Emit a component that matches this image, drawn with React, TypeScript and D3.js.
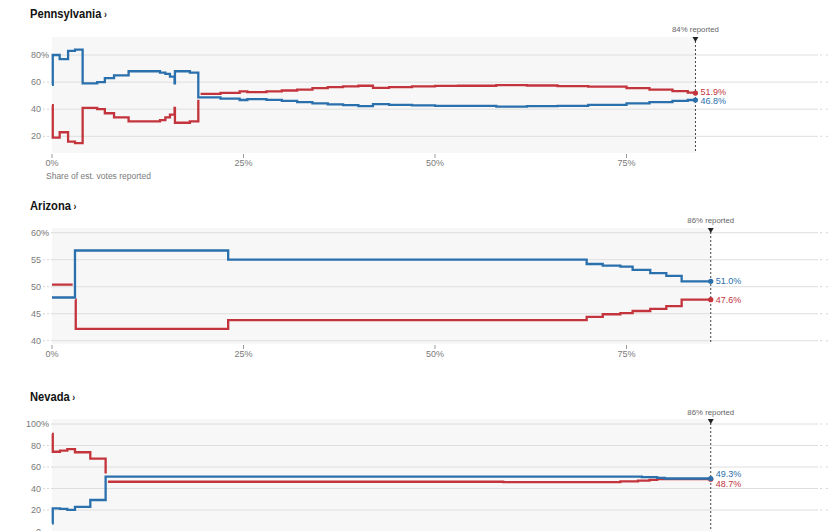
import React from 'react';
import * as d3 from 'd3';

type Pt = [number, number | null];

// share of est. votes reported (%) -> candidate share (%), step values
const paDem: Pt[] = [
  [0, 58], [0.1, 80], [1.0, 77], [2.1, 83], [3.0, 84], [4.0, 59], [5.9, 60], [6.9, 63], [8.1, 65],
  [10, 68], [14.1, 67], [14.8, 66], [15.4, 64], [16.0, 59], [16.05, 68], [18, 67], [19.1, 48.8],
  [22, 47.8], [24.5, 46.8], [25.5, 47.4], [28, 46.9], [30, 46.2], [32, 45.2], [34, 44.3], [36, 43.5],
  [38, 43], [40, 42.2], [41.9, 43.7], [44, 43.2], [47, 42.8], [50, 42.5], [53, 42.4], [58, 41.9],
  [62, 42.2], [66, 42.5], [70, 43.2], [75, 44.3], [78, 45.2], [81, 46.2], [83, 46.8], [84, 46.8],
];
const paRep: Pt[] = [
  [0, 43], [0.1, 19], [1.0, 23], [2.1, 16], [3.0, 15], [4.0, 41], [5.9, 40], [6.9, 37], [8.1, 34],
  [10, 31], [14.1, 32], [14.8, 34], [15.4, 36], [16.0, 41], [16.05, 30], [18, 31], [19.1, 47],
  [19.3, null], [19.4, 51.3], [22, 52], [24.5, 53.2], [25.5, 52.6], [28, 53.2], [30, 53.8], [32, 54.5],
  [34, 55.6], [36, 56.3], [38, 56.8], [40, 57.3], [41.9, 55.8], [44, 56.3], [47, 56.8], [50, 57.2],
  [53, 57.3], [58, 57.8], [62, 57.5], [66, 57], [70, 56.6], [75, 55.6], [78, 54.5], [81, 53.3],
  [83, 52.3], [84, 51.9],
];

const azDem: Pt[] = [
  [0, 48], [3.0, 56.7], [23, 55], [69.8, 54.2], [71.9, 53.9], [74.2, 53.7], [75.8, 53.1],
  [78.1, 52.5], [80.2, 52.0], [82.2, 51.0], [86, 51.0],
];
const azRep: Pt[] = [
  [0, 50.4], [2.7, 50.4], [2.8, null], [3.05, 47.6], [3.1, 42.2], [23, 43.8], [69.8, 44.4],
  [71.9, 44.9], [74.2, 45.1], [75.8, 45.5], [78.1, 45.9], [80.2, 46.4], [82.2, 47.6], [86, 47.6],
];

const nvDem: Pt[] = [
  [0, 7.6], [0.1, 21.6], [1.04, 21], [2, 20.2], [3, 23], [5, 29.3], [7, 51], [75, 51],
  [77, 50.5], [79, 49.8], [80, 49.3], [86, 49.3],
];
const nvRep: Pt[] = [
  [0, 90.7], [0.1, 74.2], [1.04, 75.2], [2, 76.7], [3, 73.7], [5, 67.7], [7, 54], [7.1, null],
  [7.3, 46.3], [58.9, 45.9], [74.2, 46.6], [76.5, 47.3], [78, 48], [79, 48.7], [86, 48.7],
];

const stateNames = ['Pennsylvania', 'Arizona', 'Nevada'];
const reported = [84, 86, 86];
const yTicks = [[20, 40, 60, 80], [40, 45, 50, 55, 60], [0, 20, 40, 60, 80, 100]];
const yDomains: [number, number][] = [[20, 80], [40, 60], [0, 100]];
const xTicks = [0, 25, 50, 75];
const demSeries = [paDem, azDem, nvDem];
const repSeries = [paRep, azRep, nvRep];

const BLUE = '#2a70ad';
const RED = '#c3343c';
const FONT = "'Liberation Sans', Arial, sans-serif";

// pixel layout for each panel
const layout = [
  { titleY: 18, bgTop: 37, bgBottom: 153, y0: 136.3, y1: 55, annY: 32, lineBottom: 153, axisLabel: true, xAxis: true },
  { titleY: 210, bgTop: 228, bgBottom: 344, y0: 340.7, y1: 232.7, annY: 223, lineBottom: 344, axisLabel: false, xAxis: true },
  { titleY: 401, bgTop: 419, bgBottom: 540, y0: 531.5, y1: 424, annY: 415, lineBottom: 531, axisLabel: false, xAxis: false },
];

const xScale = d3.scaleLinear().domain([0, 100]).range([52, 818]);

const Panel: React.FC<{ i: number }> = ({ i }) => {
  const L = layout[i];
  const yScale = d3.scaleLinear().domain(yDomains[i]).range([L.y0, L.y1]);
  const line = d3.line<Pt>()
    .defined(d => d[1] !== null)
    .x(d => xScale(d[0]))
    .y(d => yScale(d[1] as number))
    .curve(d3.curveStepAfter);
  const xr = xScale(reported[i]);
  const ticks = yTicks[i];
  const top = ticks[ticks.length - 1];

  const dem = demSeries[i];
  const rep = repSeries[i];
  const demLast = dem[dem.length - 1][1] as number;
  const repLast = rep[rep.length - 1][1] as number;
  let yd = yScale(demLast);
  let yr = yScale(repLast);
  const minGap = 9.5;
  if (Math.abs(yd - yr) < minGap) {
    const mid = (yd + yr) / 2;
    if (demLast >= repLast) { yd = mid - minGap / 2; yr = mid + minGap / 2; }
    else { yr = mid - minGap / 2; yd = mid + minGap / 2; }
  }

  return (
    <g>
      {/* condensed title, like the original's narrow face */}
      <text transform={`translate(30,${L.titleY}) scale(0.86,1)`} fontFamily={FONT} fontWeight="bold" fontSize={13} fill="#121212">
        {stateNames[i]}<tspan fontSize={10} dx={3}>›</tspan>
      </text>
      <rect x={52} y={L.bgTop} width={xr - 52} height={L.bgBottom - L.bgTop} fill="#f7f7f7" />
      {ticks.map(t => (
        <g key={t}>
          <line x1={43} x2={52} y1={yScale(t)} y2={yScale(t)} stroke="#d6d6d6" strokeDasharray="2,2" />
          <line x1={52} x2={818} y1={yScale(t)} y2={yScale(t)} stroke="#dedede" />
          <line x1={820} x2={829} y1={yScale(t)} y2={yScale(t)} stroke="#d6d6d6" strokeDasharray="2,4" />
          <text x={41} y={yScale(t)} dy="0.35em" textAnchor="end" fontFamily={FONT} fontSize={9} fill="#7a7a7a">
            {t}
          </text>
          {t === top && (
            <text x={41} y={yScale(t)} dy="0.35em" fontFamily={FONT} fontSize={9} fill="#7a7a7a">%</text>
          )}
        </g>
      ))}
      {L.xAxis && xTicks.map(t => (
        <g key={t}>
          <line x1={xScale(t)} x2={xScale(t)} y1={L.bgBottom + 1} y2={L.bgBottom + 5} stroke="#999" />
          <text x={xScale(t)} y={L.bgBottom + 13} textAnchor="middle" fontFamily={FONT} fontSize={9} fill="#7a7a7a">
            {t}%
          </text>
        </g>
      ))}
      {L.axisLabel && (
        <text x={46} y={L.bgBottom + 26} fontFamily={FONT} fontSize={8.5} fill="#7a7a7a">
          Share of est. votes reported
        </text>
      )}
      <line x1={xr} x2={xr} y1={L.bgTop} y2={L.lineBottom} stroke="#444" strokeDasharray="2,2" />
      <path d={`M${xr - 3},${L.bgTop} L${xr + 3},${L.bgTop} L${xr},${L.bgTop + 5}Z`} fill="#222" />
      <text x={xr} y={L.annY} textAnchor="middle" fontFamily={FONT} fontSize={7.8} fill="#666">
        {reported[i]}% reported
      </text>
      <path d={line(rep) || ''} fill="none" stroke={RED} strokeWidth={2.3} />
      <path d={line(dem) || ''} fill="none" stroke={BLUE} strokeWidth={2.3} />
      <circle cx={xr} cy={yScale(repLast)} r={2.6} fill={RED} />
      <circle cx={xr} cy={yScale(demLast)} r={2.6} fill={BLUE} />
      <text x={xr + 5} y={yr} dy="0.35em" fontFamily={FONT} fontSize={9} fill={RED}>
        {d3.format('.1f')(repLast)}%
      </text>
      <text x={xr + 5} y={yd} dy="0.35em" fontFamily={FONT} fontSize={9} fill={BLUE}>
        {d3.format('.1f')(demLast)}%
      </text>
    </g>
  );
};

export default function App() {
  return (
    <svg width={829} height={531} style={{ position: 'absolute', left: 0, top: 0, background: '#fff' }}>
      {stateNames.map((_, i) => <Panel key={i} i={i} />)}
    </svg>
  );
}
